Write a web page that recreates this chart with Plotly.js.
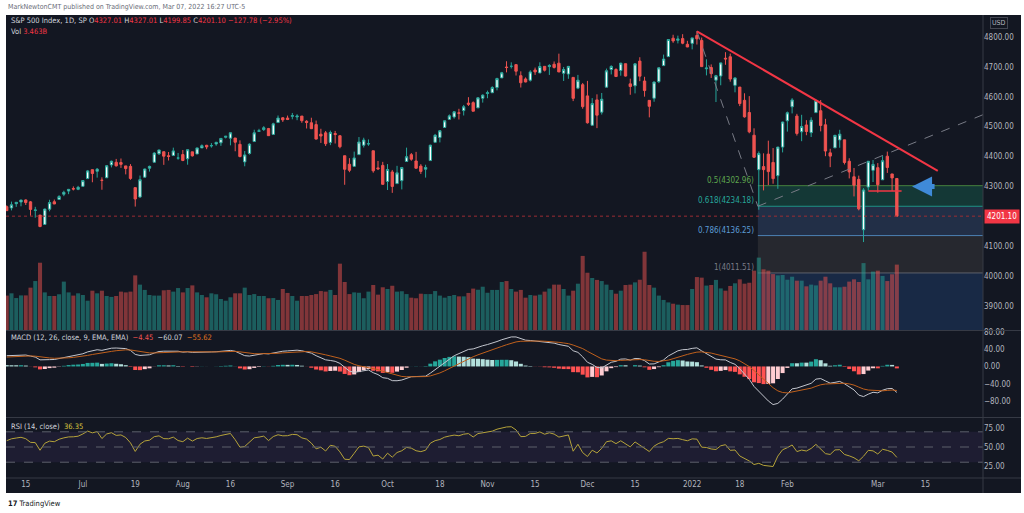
<!DOCTYPE html>
<html><head><meta charset="utf-8">
<script src="https://cdn.plot.ly/plotly-3.0.1.min.js"></script>
<style>html,body{margin:0;padding:0;background:#fff}#chart{width:1024px;height:513px}</style>
</head><body><div id="chart"></div>
<script>
// S&P 500 daily, 2021-06-09 .. 2022-03-07 (188 sessions)
const opens = [4232.99,4228.56,4242.90,4248.31,4255.28,4248.87,4220.37,4204.78,4173.40,4224.61,4249.27,4256.97,4274.45,4284.90,4293.21,4290.65,
4300.73,4326.60,4356.46,4351.01,4321.07,4329.38,4372.41,4381.07,4380.11,4369.02,4367.43,4296.40,4265.11,4331.13,4361.27,4381.20,4409.58,4416.38,4402.95,4403.59,4395.12,
4406.86,4392.74,4415.95,4408.86,4429.07,4437.77,4435.79,4442.18,4446.08,4464.84,4461.65,4462.12,4440.94,4382.44,4410.56,4450.29,4484.40,4490.45,4493.75,4474.10,4513.76,4529.75,
4528.80,4534.48,4532.42,4535.38,4518.09,4513.02,4506.92,4474.81,4479.33,4447.49,4477.09,4469.74,4402.95,4374.45,4367.43,4406.75,4438.04,4442.12,4419.54,4362.41,4370.67,
4317.16,4348.84,4309.87,4319.57,4383.73,4406.51,4385.44,4368.31,4358.01,4386.75,4447.69,4463.72,4497.34,4524.42,4532.24,4546.12,4553.69,4578.69,4580.22,4562.84,4595.20,
4610.62,4613.34,4630.65,4662.93,4699.26,4701.48,4707.25,4670.26,4659.39,4655.24,4689.30,4679.42,4701.50,4700.72,4708.44,4712.00,4678.48,4675.78,4664.63,4628.75,4640.25,
4602.82,4504.73,4589.49,4548.37,4631.97,4690.86,4691.00,4687.64,4710.30,4642.99,4636.46,4719.13,4652.50,4587.90,4594.96,4650.36,4703.96,4733.99,4795.49,4788.64,4794.23,4775.21,
4778.14,4804.51,4787.99,4693.39,4697.66,4655.34,4669.14,4728.59,4733.56,4637.99,4632.24,4588.03,4547.35,4471.38,4356.32,4366.64,4408.43,4380.58,4336.19,4431.79,
4519.57,4566.39,4535.41,4482.79,4505.75,4480.02,4547.00,4553.24,4506.27,4412.61,4429.28,4455.75,4456.06,4384.57,4332.74,4324.01,4155.77,4298.38,4354.17,
4363.14,4322.56,4401.31,4342.12,4327.01];
const highs = [4237.09,4249.74,4248.38,4255.59,4257.16,4251.89,4232.29,4204.78,4226.24,4255.84,4256.60,4271.28,4286.12,4292.14,4300.52,4302.43,
4320.66,4355.43,4356.46,4361.88,4330.88,4371.60,4386.68,4392.37,4393.68,4369.02,4375.09,4296.40,4336.84,4359.70,4369.87,4415.18,4422.73,4416.38,4415.47,4429.97,4412.25,
4422.18,4423.79,4416.17,4429.76,4440.82,4439.39,4445.21,4449.44,4461.77,4468.37,4480.26,4462.12,4454.32,4418.61,4444.35,4489.88,4492.81,4501.71,4495.90,4513.33,4537.36,4531.39,
4537.11,4545.85,4541.45,4535.38,4521.79,4529.90,4520.47,4492.99,4485.68,4486.87,4485.87,4471.52,4402.95,4394.87,4416.75,4465.40,4463.12,4457.30,4419.54,4385.57,4382.55,
4375.19,4355.51,4369.23,4365.57,4429.97,4412.02,4415.88,4374.89,4372.87,4439.73,4475.82,4488.75,4520.40,4540.87,4551.44,4559.67,4572.62,4598.53,4584.57,4597.55,4608.08,
4620.34,4635.15,4663.46,4683.00,4718.50,4714.92,4708.53,4684.85,4664.55,4688.47,4697.42,4714.95,4701.50,4708.80,4717.75,4743.83,4699.39,4702.87,4664.63,4672.95,4646.02,
4652.94,4595.46,4608.03,4612.60,4694.04,4705.06,4695.26,4713.57,4710.30,4660.47,4712.60,4731.99,4666.70,4587.90,4651.14,4697.67,4740.74,4791.49,4807.02,4804.06,4808.93,4786.83,
4796.64,4818.62,4797.70,4725.01,4707.95,4673.02,4714.13,4748.83,4744.13,4665.13,4632.24,4611.55,4602.11,4494.52,4417.35,4411.01,4453.23,4428.74,4432.72,4516.89,
4550.49,4595.31,4542.88,4539.66,4521.86,4531.32,4590.03,4588.92,4526.33,4426.22,4472.77,4489.55,4456.06,4394.60,4362.12,4336.52,4294.73,4385.34,4388.84,
4378.45,4401.48,4416.78,4342.12,4327.01];
const lows = [4218.74,4220.34,4232.25,4234.07,4238.35,4202.45,4196.05,4164.40,4173.40,4217.27,4241.43,4256.97,4267.98,4274.67,4287.04,4287.96,
4300.73,4326.60,4314.37,4329.79,4289.37,4329.38,4364.03,4366.92,4362.36,4340.70,4322.53,4233.13,4262.05,4331.13,4350.06,4381.20,4405.45,4372.51,4387.01,4403.59,4389.65,
4384.81,4373.00,4400.23,4408.86,4429.07,4424.74,4430.03,4436.42,4435.96,4460.82,4437.66,4417.83,4397.59,4367.73,4406.80,4450.29,4482.28,4485.66,4468.99,4474.10,4513.76,4515.80,
4522.02,4524.66,4521.65,4513.00,4493.95,4492.07,4457.66,4445.70,4435.46,4438.37,4443.80,4427.76,4305.91,4347.96,4367.43,4406.75,4430.27,4436.19,4346.33,4355.08,4306.24,
4288.52,4278.94,4309.87,4290.49,4383.73,4386.22,4360.59,4342.09,4329.92,4386.75,4447.69,4447.47,4496.41,4524.40,4526.89,4524.00,4537.36,4569.17,4551.66,4562.84,4580.39,
4595.06,4613.34,4621.19,4662.59,4681.32,4694.39,4670.87,4630.86,4648.31,4650.77,4672.86,4679.42,4684.41,4672.78,4694.22,4682.17,4652.66,4659.89,4585.43,4625.26,4560.00,
4510.27,4504.73,4495.12,4540.51,4631.97,4674.52,4665.98,4670.24,4667.60,4606.52,4611.22,4651.89,4600.22,4531.10,4583.16,4645.53,4703.96,4733.99,4780.04,4778.08,4775.33,4765.75,
4758.17,4774.27,4699.44,4671.26,4662.74,4582.24,4638.27,4706.71,4650.29,4614.75,4568.70,4530.20,4477.95,4395.34,4222.62,4287.11,4304.80,4309.50,4292.46,4414.02,
4483.53,4544.32,4470.39,4451.50,4471.47,4465.40,4547.00,4484.31,4401.41,4364.84,4429.28,4429.68,4373.81,4327.22,4267.11,4220.51,4114.65,4286.83,4315.12,
4279.54,4322.56,4345.56,4284.98,4199.85];
const closes = [4219.55,4239.18,4247.44,4255.15,4246.59,4223.70,4221.86,4166.45,4224.79,4246.44,4241.84,4266.49,4280.70,4290.61,4291.80,4297.50,
4319.94,4352.34,4343.54,4358.13,4320.82,4369.55,4384.63,4369.21,4374.30,4360.03,4327.16,4258.49,4323.06,4358.69,4367.48,4411.79,4422.30,4401.46,4400.64,4419.15,4395.26,
4387.16,4423.15,4402.66,4429.10,4436.52,4432.35,4436.75,4447.70,4460.83,4468.00,4479.71,4448.08,4400.27,4405.80,4441.67,4479.53,4486.23,4496.19,4470.00,4509.37,4528.79,4522.68,
4524.09,4536.95,4535.43,4520.03,4514.07,4493.28,4458.58,4468.73,4443.05,4480.70,4473.75,4432.99,4357.73,4354.19,4395.64,4448.98,4455.48,4443.11,4352.63,4359.46,4307.54,
4357.04,4300.46,4345.72,4363.55,4399.76,4391.34,4361.19,4350.65,4363.80,4438.26,4471.37,4486.46,4519.63,4536.19,4549.78,4544.90,4566.48,4574.79,4551.68,4596.42,4605.38,
4613.67,4630.65,4660.57,4680.06,4697.53,4701.70,4685.25,4646.71,4649.27,4682.85,4682.80,4700.90,4688.67,4704.54,4697.96,4682.94,4690.70,4701.46,4594.62,4655.27,4567.00,
4513.04,4577.10,4538.43,4591.67,4686.75,4701.21,4667.45,4712.02,4668.97,4634.09,4709.85,4668.67,4620.64,4568.02,4649.23,4696.56,4725.79,4791.19,4786.35,4793.06,4778.73,4766.18,
4796.56,4793.54,4700.58,4696.05,4677.03,4670.29,4713.07,4726.35,4659.03,4662.85,4577.11,4532.76,4482.73,4397.94,4410.13,4356.45,4349.93,4326.51,4431.85,4515.55,
4546.54,4589.38,4477.44,4500.53,4483.87,4521.54,4587.18,4504.08,4418.64,4401.67,4471.07,4475.01,4380.26,4348.87,4304.76,4225.50,4288.70,4384.65,4373.94,
4306.26,4386.54,4363.49,4328.87,4201.10];
// volume, billions
const volumes = [1.82,1.94,1.69,1.83,1.83,2.24,2.59,3.56,1.99,1.80,1.80,1.89,2.56,1.99,1.82,1.94,1.85,1.55,2.08,1.94,
2.08,1.80,1.75,1.80,2.03,1.99,2.03,2.89,2.40,2.12,1.85,1.82,1.82,2.10,2.12,2.03,2.22,1.99,2.22,2.36,
1.99,1.85,1.73,1.94,1.89,1.64,1.55,1.73,1.94,1.94,2.24,1.85,1.90,1.80,1.80,1.68,1.69,1.59,2.17,1.96,
1.80,1.55,1.80,1.80,1.85,1.90,2.06,2.03,2.12,1.85,3.51,2.54,1.90,1.99,1.97,1.68,2.03,2.38,1.87,2.26,
2.17,2.34,2.03,2.05,1.90,1.71,1.68,1.92,1.90,1.90,2.06,1.82,1.71,1.80,1.85,1.78,1.78,1.96,2.19,2.13,
2.29,1.97,2.12,2.12,2.54,2.59,2.17,2.03,2.12,1.71,1.85,1.82,1.87,2.03,2.19,2.40,2.40,2.17,1.82,2.08,
2.45,3.92,3.03,2.75,2.65,2.59,2.40,2.12,1.92,2.08,2.38,2.40,2.52,2.66,4.14,2.38,2.24,1.82,1.59,1.46,
1.39,1.34,1.32,1.32,2.17,2.80,2.77,2.35,2.38,2.65,2.20,2.08,2.33,2.47,2.68,2.45,2.50,3.14,3.83,3.21,
3.14,2.96,2.89,2.91,2.66,2.82,2.61,2.61,2.31,2.40,2.36,2.61,2.82,2.47,2.26,2.26,2.29,2.56,2.68,2.54,
3.54,2.68,3.09,3.14,2.86,2.59,2.95,3.46];
const tickIdx = [4,16,27,37,47,59,69,80,91,101,111,122,132,144,154,164,183,193];
const tickText = ['15','Jul','19','Aug','16','Sep','16','Oct','18','Nov','15','Dec','15','2022','18','Feb','Mar','15'];
const priceTicks = [3900,4000,4100,4300,4400,4500,4600,4700,4800];
const fibLevels = [4302.96,4234.18,4136.25,4011.51];
const fibNames = ['0.5','0.618','0.786','1'];

const FONT = "'Liberation Sans Narrow', 'DejaVu Sans Condensed', sans-serif";
const idx = closes.map((_, i) => i);

// MACD (12, 26, close, 9) and RSI (14) from closes, seeded from the left edge of the picture
function ema(src, len, seed) { const a = 2 / (len + 1); let v = seed; return src.map(x => v = a * x + (1 - a) * v); }
const e12 = ema(closes, 12, 4210), e26 = ema(closes, 26, 4184);
const macd = e12.map((v, i) => v - e26[i]);
const signal = ema(macd, 9, 21);
const hist = macd.map((v, i) => v - signal[i]);
const histCol = hist.map((h, i) => { const p = i ? hist[i-1] : h; return h >= 0 ? (h > p ? '#26a69a' : '#b2dfdb') : (h > p ? '#ffcdd2' : '#ff5252'); });
let ag = 14, al = 10;
const rsi = closes.map((c, i) => { if (i) { const d = c - closes[i-1]; ag = (ag * 13 + Math.max(d, 0)) / 14; al = (al * 13 + Math.max(-d, 0)) / 14; } return 100 - 100 / (1 + ag / al); });

const PX = p => (p - 6) / 977, PY = p => (478 - p) / 463;
const XR = [-0.15, 205.1];

const traces = [
  {type:'candlestick', x:idx, open:opens, high:highs, low:lows, close:closes, xaxis:'x', yaxis:'y',
   increasing:{line:{color:'#26a69a', width:1}, fillcolor:'#ffffff'},
   decreasing:{line:{color:'#ef5350', width:1}, fillcolor:'#ef5350'},
   whiskerwidth:0, hoverinfo:'skip', showlegend:false},
  {type:'bar', x:idx, y:volumes, xaxis:'x', yaxis:'y2', hoverinfo:'skip', showlegend:false,
   marker:{color:idx.map(i => closes[i] >= opens[i] ? 'rgba(38,166,154,0.5)' : 'rgba(239,83,80,0.5)')}},
  {type:'bar', x:idx, y:hist, xaxis:'x', yaxis:'y3', hoverinfo:'skip', showlegend:false, marker:{color:histCol}},
  {type:'scatter', mode:'lines', x:idx, y:macd, xaxis:'x', yaxis:'y3', line:{color:'#c3c6ce', width:1}, hoverinfo:'skip', showlegend:false},
  {type:'scatter', mode:'lines', x:idx, y:signal, xaxis:'x', yaxis:'y3', line:{color:'#c0601c', width:1}, hoverinfo:'skip', showlegend:false},
  {type:'scatter', mode:'lines', x:idx, y:rsi, xaxis:'x', yaxis:'y4', line:{color:'#b5a33a', width:1}, hoverinfo:'skip', showlegend:false}
];

const fibFill = ['#143836', '#222f47', '#26282f', '#182945'];
const fibLine = ['#46803e', '#1f9486', '#4d82b5', '#5d606b'];
const fibText = ['#5ea64e', '#26a69a', '#5b9bd5', '#787b86'];
const F0 = 157.8;
const shapes = [
  {type:'rect', xref:'paper', yref:'paper', x0:0, x1:PX(1021), y0:PY(493), y1:1, fillcolor:'#131722', line:{width:0}, layer:'below'}
];
fibLevels.forEach((lv, k) => {
  const lo = k < 3 ? fibLevels[k+1] : 3800;
  shapes.push({type:'rect', xref:'x', yref:'y', x0:F0, x1:XR[1], y0:lo, y1:lv, fillcolor:fibFill[k], line:{width:0}, layer:'below'});
});
fibLevels.forEach((lv, k) => shapes.push({type:'line', xref:'x', yref:'y', x0:F0, x1:XR[1], y0:lv, y1:lv, line:{color:fibLine[k], width:1}, layer:'below'}));
shapes.push(
  {type:'rect', xref:'x', yref:'y4', x0:XR[0], x1:XR[1], y0:30, y1:70, fillcolor:'rgba(126,87,194,0.1)', line:{width:0}, layer:'below'},
  ...[70, 50, 30].map(v => ({type:'line', xref:'x', yref:'y4', x0:XR[0], x1:XR[1], y0:v, y1:v, line:{color:'#5d606b', width:1, dash:'dash'}})),
  {type:'line', xref:'x', yref:'y', x0:XR[0], x1:XR[1], y0:4201.10, y1:4201.10, line:{color:'#9b2c34', width:1, dash:'dot'}},
  {type:'line', xref:'x', yref:'y', x0:145, y0:4818.6, x1:F0, y1:4234.2, line:{color:'#787b86', width:1, dash:'dash'}},
  {type:'line', xref:'x', yref:'y', x0:F0, y0:4234.2, x1:XR[1], y1:4540, line:{color:'#787b86', width:1, dash:'dash'}},
  {type:'line', xref:'x', yref:'y', x0:145, y0:4818.6, x1:195.6, y1:4352.4, line:{color:'#f23645', width:2}},
  {type:'line', xref:'x', yref:'y', x0:181, y0:4285, x1:188, y1:4285, line:{color:'#f23645', width:1.5}},
  ...[330.5, 417.5, 478].map(p => ({type:'line', xref:'paper', yref:'paper', x0:0, x1:PX(1021), y0:PY(p), y1:PY(p), line:{color:'#363a45', width:1}})),
  {type:'line', xref:'paper', yref:'paper', x0:1, x1:1, y0:PY(493), y1:1, line:{color:'#363a45', width:1}}
);

const red = s => `<span style="color:#f23645">${s}</span>`;
const txt = (x, y, text, size, color, extra) => Object.assign({xref:'paper', yref:'paper', x:PX(x), y:PY(y), text, showarrow:false, xanchor:'left', yanchor:'middle', font:{family:FONT, size, color}}, extra || {});
const annotations = [
  txt(6, 7, 'MarkNewtonCMT published on TradingView.com, Mar 07, 2022 16:27 UTC-5', 7, '#6a6d78'),
  txt(9, 21, 'S&amp;P 500 Index, 1D, SP O' + red('4327.01') + ' H' + red('4327.01') + ' L' + red('4199.85') + ' C' + red('4201.10') + ' ' + red('−127.78 (−2.95%)'), 7.5, '#d1d4dc'),
  txt(9, 32, 'Vol ' + red('3.463B'), 7.5, '#d1d4dc'),
  txt(9, 337, 'MACD (12, 26, close, 9, EMA, EMA)  <span style="color:#ef5350">−4.45</span>  <span style="color:#d1d4dc">−60.07</span>  <span style="color:#e0731f">−55.62</span>', 7.5, '#d1d4dc'),
  txt(9, 426, 'RSI (14, close)  <span style="color:#d9c53f">36.35</span>', 7.5, '#d1d4dc'),
  txt(6, 503, '<b>17</b> TradingView', 7.5, '#131722'),
  txt(999, 23, 'USD', 7, '#b2b5be', {xanchor:'center', bordercolor:'#434651', borderwidth:1, borderpad:1}),
  {xref:'paper', yref:'y', x:PX(984), y:4201.10, text:'4201.10', showarrow:false, xanchor:'left', yanchor:'middle', bgcolor:'#f23645', borderpad:2, font:{family:FONT, size:8, color:'#ffffff'}},
  {xref:'x', yref:'y', x:190.2, y:4300, ax:24, ay:0, text:'', showarrow:true, arrowhead:2, arrowsize:0.8, arrowwidth:5, arrowcolor:'#3f8ad8'}
];
fibLevels.forEach((lv, k) => annotations.push({xref:'x', yref:'y', x:F0 - 0.3, y:lv, text:fibNames[k] + '(' + lv.toFixed(2) + ')', showarrow:false, xanchor:'right', yanchor:'bottom', yshift:-1, font:{family:FONT, size:8, color:fibText[k]}}));

const axFont = {family:FONT, size:8, color:'#b2b5be'};
const yBase = {side:'right', anchor:'x', showgrid:false, zeroline:false, showline:false, ticks:'', tickfont:axFont, tickformat:'.2f', fixedrange:true};
const layout = {
  width:1024, height:513, margin:{l:6, r:41, t:15, b:35},
  paper_bgcolor:'#ffffff', plot_bgcolor:'#131722', showlegend:false, bargap:0.15,
  font:{family:FONT},
  xaxis:{domain:[0,1], range:XR, anchor:'y4', tickvals:tickIdx, ticktext:tickText, tickfont:axFont, showgrid:false, zeroline:false, showline:false, ticks:'', rangeslider:{visible:false}},
  yaxis:Object.assign({}, yBase, {domain:[0.3197, 1], range:[3821, 4873], tickvals:priceTicks}),
  yaxis2:{overlaying:'y', domain:[0.3197, 1], range:[0, 16.67], visible:false, fixedrange:true},
  yaxis3:Object.assign({}, yBase, {domain:[0.1317, 0.3175], range:[-117, 82], tickvals:[80, 40, 0, -40, -80]}),
  yaxis4:Object.assign({}, yBase, {domain:[0, 0.1296], range:[9.2, 88.2], tickvals:[75, 50, 25]}),
  shapes, annotations
};
Plotly.newPlot('chart', traces, layout, {staticPlot:true, displayModeBar:false});
</script></body></html>
